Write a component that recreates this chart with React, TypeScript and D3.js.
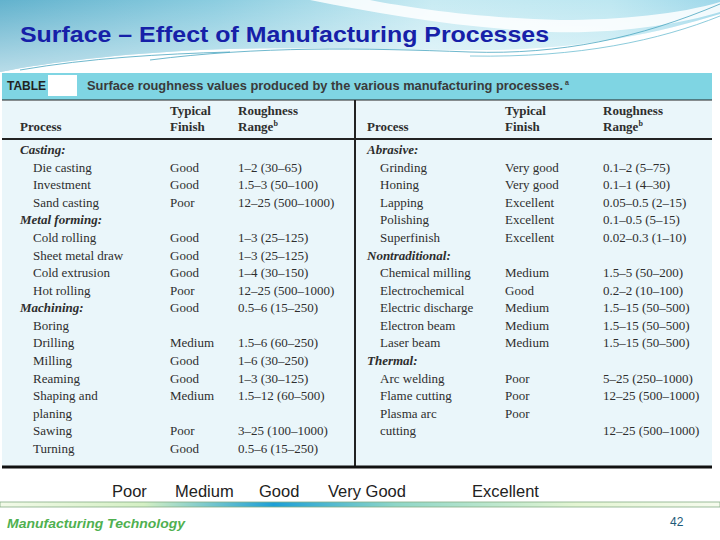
import React from "react";
import * as d3 from "d3";

const title = "Surface – Effect of Manufacturing Processes";
const tableLabel = "TABLE";
const caption = "Surface roughness values produced by the various manufacturing processes.";
const captionNote = "a";
const headerTop = ["", "Typical", "Roughness"];
const headerBottom = ["Process", "Finish", "Range"];
const rangeNote = "b";

const leftProcess = [
  "Casting:", "Die casting", "Investment", "Sand casting", "Metal forming:", "Cold rolling",
  "Sheet metal draw", "Cold extrusion", "Hot rolling", "Machining:", "Boring", "Drilling",
  "Milling", "Reaming", "Shaping and", "planing", "Sawing", "Turning",
];
const leftFinish = [
  "", "Good", "Good", "Poor", "", "Good", "Good", "Good", "Poor", "Good", "", "Medium",
  "Good", "Good", "Medium", "", "Poor", "Good",
];
const leftRange = [
  "", "1–2 (30–65)", "1.5–3 (50–100)", "12–25 (500–1000)", "", "1–3 (25–125)", "1–3 (25–125)",
  "1–4 (30–150)", "12–25 (500–1000)", "0.5–6 (15–250)", "", "1.5–6 (60–250)", "1–6 (30–250)",
  "1–3 (30–125)", "1.5–12 (60–500)", "", "3–25 (100–1000)", "0.5–6 (15–250)",
];

const rightProcess = [
  "Abrasive:", "Grinding", "Honing", "Lapping", "Polishing", "Superfinish", "Nontraditional:",
  "Chemical milling", "Electrochemical", "Electric discharge", "Electron beam", "Laser beam",
  "Thermal:", "Arc welding", "Flame cutting", "Plasma arc", "cutting",
];
const rightFinish = [
  "", "Very good", "Very good", "Excellent", "Excellent", "Excellent", "", "Medium", "Good",
  "Medium", "Medium", "Medium", "", "Poor", "Poor", "Poor", "",
];
const rightRange = [
  "", "0.1–2 (5–75)", "0.1–1 (4–30)", "0.05–0.5 (2–15)", "0.1–0.5 (5–15)", "0.02–0.3 (1–10)", "",
  "1.5–5 (50–200)", "0.2–2 (10–100)", "1.5–15 (50–500)", "1.5–15 (50–500)", "1.5–15 (50–500)", "",
  "5–25 (250–1000)", "12–25 (500–1000)", "", "12–25 (500–1000)",
];

const finishScaleLabels = ["Poor", "Medium", "Good", "Very Good", "Excellent"];
const footerLabel = "Manufacturing Technology";
const pageNumber = "42";

const W = 720;
const H = 540;
const TEXT = "#2e2e2e";
const SERIF = "'Liberation Serif', 'Times New Roman', serif";
const SANS = "'Liberation Sans', Arial, sans-serif";

export default function App() {
  const rowY = d3.scaleLinear().domain([0, 17]).range([154, 453]);
  const leftCol = d3.scaleOrdinal<string, number>().domain(["process", "finish", "range"]).range([20, 170, 238]);
  const rightCol = d3.scaleOrdinal<string, number>().domain(["process", "finish", "range"]).range([367, 505, 603]);
  const footX = d3.scaleOrdinal<string, number>().domain(finishScaleLabels).range([112, 175, 259, 328, 472]);

  const panel = (
    col: d3.ScaleOrdinal<string, number>,
    proc: string[],
    fin: string[],
    rng: string[],
    key: string
  ) => (
    <g key={key} fontFamily={SERIF} fontSize={13} fill={TEXT}>
      {headerTop.map((h, i) =>
        h ? (
          <text key={"ht" + i} x={col(["process", "finish", "range"][i])} y={115} fontWeight="bold">
            {h}
          </text>
        ) : null
      )}
      {headerBottom.map((h, i) => (
        <text key={"hb" + i} x={col(["process", "finish", "range"][i])} y={131} fontWeight="bold">
          {h}
          {i === 2 ? (
            <tspan fontSize={8} dy={-5}>
              {rangeNote}
            </tspan>
          ) : null}
        </text>
      ))}
      {proc.map((p, i) => {
        const cat = p.endsWith(":");
        return (
          <g key={i}>
            <text
              x={col("process") + (cat ? 0 : 13)}
              y={rowY(i)}
              fontWeight={cat ? "bold" : "normal"}
              fontStyle={cat ? "italic" : "normal"}
            >
              {p}
            </text>
            {fin[i] ? (
              <text x={col("finish")} y={rowY(i)}>
                {fin[i]}
              </text>
            ) : null}
            {rng[i] ? (
              <text x={col("range")} y={rowY(i)}>
                {rng[i]}
              </text>
            ) : null}
          </g>
        );
      })}
    </g>
  );

  return (
    <svg width={W} height={H} style={{ display: "block", position: "absolute", left: 0, top: 0 }}>
      <defs>
        <linearGradient id="topGrad" x1="0" y1="0" x2="1" y2="0">
          <stop offset="0" stopColor="#62b2cd" />
          <stop offset="0.3" stopColor="#8ccde0" />
          <stop offset="0.6" stopColor="#c8ebf3" />
          <stop offset="0.85" stopColor="#bde7f1" />
          <stop offset="1" stopColor="#9fd8ea" />
        </linearGradient>
        <linearGradient id="topFade" x1="0" y1="0" x2="0" y2="1">
          <stop offset="0" stopColor="#ffffff" stopOpacity="0" />
          <stop offset="1" stopColor="#ffffff" stopOpacity="0.55" />
        </linearGradient>
        <linearGradient id="footGrad" x1="0" y1="0" x2="1" y2="0">
          <stop offset="0" stopColor="#f2fae8" />
          <stop offset="0.2" stopColor="#d4efc4" />
          <stop offset="0.38" stopColor="#1d9fd6" />
          <stop offset="0.55" stopColor="#8fd6c8" />
          <stop offset="0.8" stopColor="#e4f5d3" />
          <stop offset="1" stopColor="#f6fbee" />
        </linearGradient>
      </defs>
      <rect width={W} height={H} fill="#ffffff" />

      {/* top wave background */}
      <path
        d="M0,0 H720 V14 C650,36 570,50 480,50 C380,50 300,46 200,50 C120,54 50,62 0,72 Z"
        fill="url(#topGrad)"
      />
      <path
        d="M0,0 H720 V14 C650,36 570,50 480,50 C380,50 300,46 200,50 C120,54 50,62 0,72 Z"
        fill="url(#topFade)"
      />
      <path
        d="M310,0 C380,14 460,28 550,32 C620,34 680,24 720,12 V2 C680,14 620,20 560,20 C480,18 410,8 370,0 Z"
        fill="#ffffff"
        opacity={0.85}
      />
      <path
        d="M150,60 C260,46 360,48 470,52 C560,55 640,38 720,4"
        fill="none"
        stroke="#4aa6c0"
        strokeWidth={0.8}
      />
      <path d="M20,70 C90,58 160,54 230,52" fill="none" stroke="#4aa6c0" strokeWidth={0.8} />
      <path d="M470,56 C580,58 660,40 720,16" fill="none" stroke="#5ab4cc" strokeWidth={0.7} />

      {/* title */}
      <text
        x={20}
        y={42}
        fontFamily={SANS}
        fontWeight="bold"
        fontSize={22}
        fill="#1620a8"
        textLength={529}
        lengthAdjust="spacingAndGlyphs"
      >
        {title}
      </text>

      {/* table */}
      <rect x={2} y={73} width={710} height={27} fill="#7fd5e3" />
      <rect x={2} y={100} width={710} height={367} fill="#eaf6fa" />
      <rect x={48} y={75} width={29} height={21} fill="#ffffff" />
      <text x={7} y={90} fontFamily={SANS} fontWeight="bold" fontSize={12} fill="#222">
        {tableLabel}
      </text>
      <text
        x={87}
        y={90}
        fontFamily={SANS}
        fontWeight="bold"
        fontSize={12.5}
        fill="#3a3a3a"
        textLength={476}
        lengthAdjust="spacingAndGlyphs"
      >
        {caption}
      </text>
      <text x={565} y={85} fontFamily={SANS} fontWeight="bold" fontSize={7} fill="#3a3a3a">
        {captionNote}
      </text>
      <line x1={2} x2={712} y1={100} y2={100} stroke="#222" strokeWidth={1} />
      <line x1={2} x2={712} y1={139} y2={139} stroke="#222" strokeWidth={2} />
      <line x1={355} x2={355} y1={100} y2={467} stroke="#222" strokeWidth={2} />
      <line x1={2} x2={712} y1={467} y2={467} stroke="#111" strokeWidth={3} />

      {panel(leftCol, leftProcess, leftFinish, leftRange, "left")}
      {panel(rightCol, rightProcess, rightFinish, rightRange, "right")}

      {/* finish scale legend */}
      {finishScaleLabels.map((l) => (
        <text key={l} x={footX(l)} y={497} fontFamily={SANS} fontSize={16.5} fill="#222">
          {l}
        </text>
      ))}

      {/* footer */}
      <rect x={0} y={502} width={720} height={5} fill="url(#footGrad)" stroke="#86ad86" strokeWidth={0.8} />
      <text
        x={7}
        y={528}
        fontFamily={SANS}
        fontWeight="bold"
        fontStyle="italic"
        fontSize={13}
        fill="#4fb04f"
        textLength={178}
        lengthAdjust="spacingAndGlyphs"
      >
        {footerLabel}
      </text>
      <text x={670} y={526} fontFamily={SANS} fontSize={12} fill="#1d5a78">
        {pageNumber}
      </text>
    </svg>
  );
}
